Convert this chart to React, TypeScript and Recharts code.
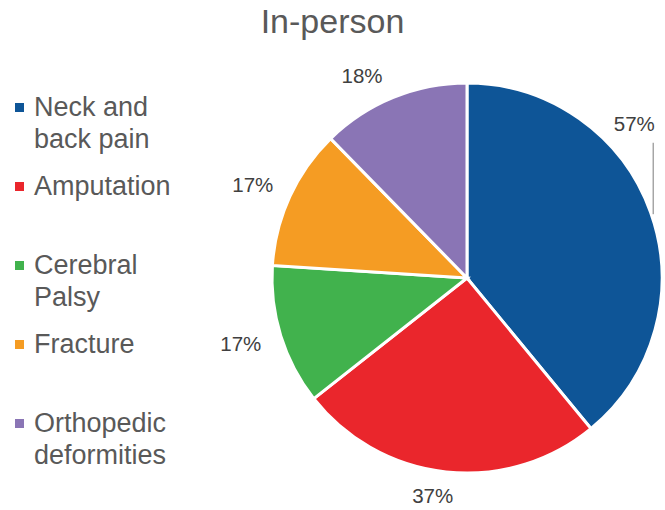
import { PieChart, Pie, Cell, Legend } from "recharts";

// In-person distribution (values shown as the slice labels)
const categories = [
  "Neck and back pain",
  "Amputation",
  "Cerebral Palsy",
  "Fracture",
  "Orthopedic deformities",
];
const values = [57, 37, 17, 17, 18];
const labels = ["57%", "37%", "17%", "17%", "18%"];

const COLORS = ["#0E5597", "#EA262C", "#41B24D", "#F59C23", "#8A75B5"];
const FONT = '"Liberation Sans", Arial, sans-serif';
const LEGEND_WIDTH = 200;

// Excel-style "best fit" label nudges, relative to a point just outside the rim
const LABEL_NUDGE: [number, number][] = [
  [-37, -81],
  [-11, 2],
  [-19, 1],
  [-17, -3],
  [-23, -2],
];

const RADIAN = Math.PI / 180;

const chartData = categories.map((name, i) => ({ name, value: values[i], label: labels[i] }));

function renderLabel(props: any) {
  const { cx, cy, midAngle, outerRadius, index } = props;
  const r = outerRadius + 22;
  const bx = cx + r * Math.cos(-midAngle * RADIAN);
  const by = cy + r * Math.sin(-midAngle * RADIAN);
  const [dx, dy] = LABEL_NUDGE[index];
  const x = bx + dx;
  const y = by + dy;
  return (
    <g key={`lbl-${index}`}>
      {index === 0 && (
        <line
          x1={x + 19}
          y1={y + 19}
          x2={x + 19}
          y2={cy + outerRadius * Math.sin(-midAngle * RADIAN) + 2}
          stroke="#A6A6A6"
          strokeWidth={1.5}
        />
      )}
      <text
        x={x}
        y={y}
        textAnchor="middle"
        dominantBaseline="central"
        fill="#404040"
        fontSize={20.5}
        fontFamily={FONT}
      >
        {chartData[index].label}
      </text>
    </g>
  );
}

function renderLegend() {
  return (
    <div style={{ position: "relative", width: LEGEND_WIDTH, height: 510, fontFamily: FONT }}>
      {categories.map((name, i) => (
        <div
          key={name}
          style={{ position: "absolute", left: 0, top: 91 + 79 * i, width: LEGEND_WIDTH }}
        >
          <div
            style={{
              position: "absolute",
              left: 15,
              top: 12,
              width: 9,
              height: 9,
              background: COLORS[i],
            }}
          />
          <div
            style={{
              position: "absolute",
              left: 34,
              top: 0,
              width: 150,
              fontSize: 27,
              lineHeight: "32px",
              color: "#595959",
            }}
          >
            {name}
          </div>
        </div>
      ))}
    </div>
  );
}

export default function App() {
  return (
    <div
      style={{
        position: "absolute",
        left: 0,
        top: 0,
        width: 665,
        height: 510,
        background: "#ffffff",
        fontFamily: FONT,
      }}
    >
      <div
        style={{
          position: "absolute",
          left: 0,
          top: 2,
          width: 665,
          textAlign: "center",
          fontSize: 34,
          color: "#595959",
        }}
      >
        In-person
      </div>
      <PieChart width={665} height={510} margin={{ top: 0, right: 0, bottom: 0, left: 0 }}>
        <Legend
          content={renderLegend}
          layout="vertical"
          align="left"
          verticalAlign="top"
          wrapperStyle={{ left: 0, top: 0, width: LEGEND_WIDTH }}
        />
        <Pie
          data={chartData}
          dataKey="value"
          nameKey="name"
          cx={467 - LEGEND_WIDTH}
          cy={278}
          outerRadius={195}
          startAngle={90}
          endAngle={-270}
          stroke="#ffffff"
          strokeWidth={3}
          label={renderLabel}
          labelLine={false}
          isAnimationActive={false}
        >
          {chartData.map((d, i) => (
            <Cell key={d.name} fill={COLORS[i]} />
          ))}
        </Pie>
      </PieChart>
    </div>
  );
}
